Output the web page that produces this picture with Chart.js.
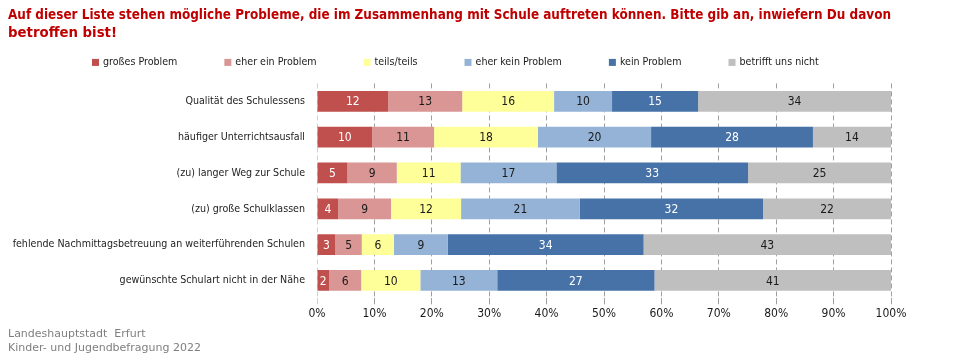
<!DOCTYPE html>
<html>
<head>
<meta charset="utf-8">
<script src="https://cdn.jsdelivr.net/npm/chart.js@4.4.1/dist/chart.umd.min.js"></script>
<style>
  html, body { margin: 0; padding: 0; background: #fff; }
  #wrap { width: 960px; height: 360px; }
</style>
</head>
<body>
<div id="wrap"><canvas id="chart" width="960" height="360"></canvas></div>
<script>
// Kategorien (Zeilen)
const categories = [
    'Qualität des Schulessens',
    'häufiger Unterrichtsausfall',
    '(zu) langer Weg zur Schule',
    '(zu) große Schulklassen',
    'fehlende Nachmittagsbetreuung an weiterführenden Schulen',
    'gewünschte Schulart nicht in der Nähe'
];

// Anteile in % je Antwort
const grossesProblem   = [12.4,  9.6,  5.3,  3.7,  3.2,  2.1];
const eherEinProblem   = [12.9, 10.8,  8.6,  9.2,  4.6,  5.6];
const teilsTeils       = [16.0, 18.1, 11.1, 12.2,  5.6, 10.3];
const eherKeinProblem  = [10.1, 19.7, 16.7, 20.7,  9.4, 13.4];
const keinProblem      = [15.0, 28.2, 33.4, 31.9, 34.1, 27.4];
const betrifftNicht    = [33.6, 13.6, 24.9, 22.3, 43.1, 41.2];

const xTicks = [0, 10, 20, 30, 40, 50, 60, 70, 80, 90, 100];

const FONT = "'Liberation Sans Narrow', 'DejaVu Sans Condensed', sans-serif";

const series = [
    { label: 'großes Problem',     data: grossesProblem,  color: '#c0504d', text: '#ffffff' },
    { label: 'eher ein Problem',   data: eherEinProblem,  color: '#d99694', text: '#1a1a1a' },
    { label: 'teils/teils',        data: teilsTeils,      color: '#ffff99', text: '#1a1a1a' },
    { label: 'eher kein Problem',  data: eherKeinProblem, color: '#95b3d7', text: '#1a1a1a' },
    { label: 'kein Problem',       data: keinProblem,     color: '#4672a8', text: '#ffffff' },
    { label: 'betrifft uns nicht', data: betrifftNicht,   color: '#bfbfbf', text: '#1a1a1a' }
];

// Werte in die Balken schreiben
const barLabels = {
    id: 'barLabels',
    afterDatasetsDraw(chart) {
        const ctx = chart.ctx;
        ctx.save();
        ctx.font = '12px ' + FONT;
        ctx.textAlign = 'center';
        ctx.textBaseline = 'middle';
        chart.data.datasets.forEach((ds, i) => {
            const meta = chart.getDatasetMeta(i);
            meta.data.forEach((bar, j) => {
                ctx.fillStyle = series[i].text;
                ctx.fillText(Math.round(ds.data[j]), (bar.x + bar.base) / 2, bar.y + 1);
            });
        });
        ctx.restore();
    }
};

// Legende in einer Zeile unter dem Titel
const rowLegend = {
    id: 'rowLegend',
    afterDraw(chart) {
        const ctx = chart.ctx;
        ctx.save();
        ctx.font = '10.6px ' + FONT;
        ctx.textBaseline = 'middle';
        const y = chart.chartArea.top - 21;
        let x = 92;
        chart.data.datasets.forEach(ds => {
            ctx.fillStyle = ds.backgroundColor;
            ctx.fillRect(x, y - 3.5, 7, 7);
            ctx.fillStyle = '#1a1a1a';
            ctx.fillText(ds.label, x + 11, y);
            x += 11 + ctx.measureText(ds.label).width + 47;
        });
        ctx.restore();
    }
};

const ctx = document.getElementById('chart').getContext('2d');
new Chart(ctx, {
    type: 'bar',
    data: {
        labels: categories,
        datasets: series.map(s => ({
            label: s.label,
            data: s.data,
            backgroundColor: s.color,
            borderWidth: 0,
            barPercentage: 0.58,
            categoryPercentage: 1
        }))
    },
    options: {
        indexAxis: 'y',
        responsive: false,
        animation: false,
        layout: { padding: { left: 8, right: 69, top: 6, bottom: 4 } },
        plugins: {
            title: {
                display: true,
                text: [
                    'Auf dieser Liste stehen mögliche Probleme, die im Zusammenhang mit Schule auftreten können. Bitte gib an, inwiefern Du davon',
                    'betroffen bist!'
                ],
                align: 'start',
                color: '#c00000',
                font: { family: FONT, size: 14.8, weight: 'bold', lineHeight: 1.23 },
                padding: { top: 0, bottom: 41 }
            },
            subtitle: {
                display: true,
                position: 'bottom',
                align: 'start',
                text: ['Landeshauptstadt  Erfurt', 'Kinder- und Jugendbefragung 2022'],
                color: '#7f7f7f',
                font: { family: "'DejaVu Sans', sans-serif", size: 11, lineHeight: 1.35 },
                padding: { top: 6, bottom: 0 }
            },
            legend: { display: false },
            tooltip: { enabled: false }
        },
        scales: {
            x: {
                stacked: true,
                min: 0,
                max: 100,
                afterBuildTicks: function(scale) {
                    scale.ticks = xTicks.map(v => ({ value: v }));
                },
                afterFit: function(scale) { scale.height = 22; },
                ticks: {
                    callback: function(value) { return value + '%'; },
                    color: '#1a1a1a',
                    font: { family: FONT, size: 12 },
                    padding: 2,
                    maxRotation: 0
                },
                grid: {
                    color: function(c) { return c.index === 0 ? '#d0d0d0' : '#a0a0a0'; },
                    lineWidth: 1,
                    tickLength: 6,
                    drawTicks: true
                },
                border: { display: false, dash: [5, 3] }
            },
            y: {
                stacked: true,
                afterFit: function(scale) { scale.width = 309; },
                ticks: {
                    color: '#222222',
                    font: { family: FONT, size: 10.6 },
                    padding: 12
                },
                grid: { display: false, drawTicks: false },
                border: { display: false }
            }
        }
    },
    plugins: [barLabels, rowLegend]
});
</script>
</body>
</html>
